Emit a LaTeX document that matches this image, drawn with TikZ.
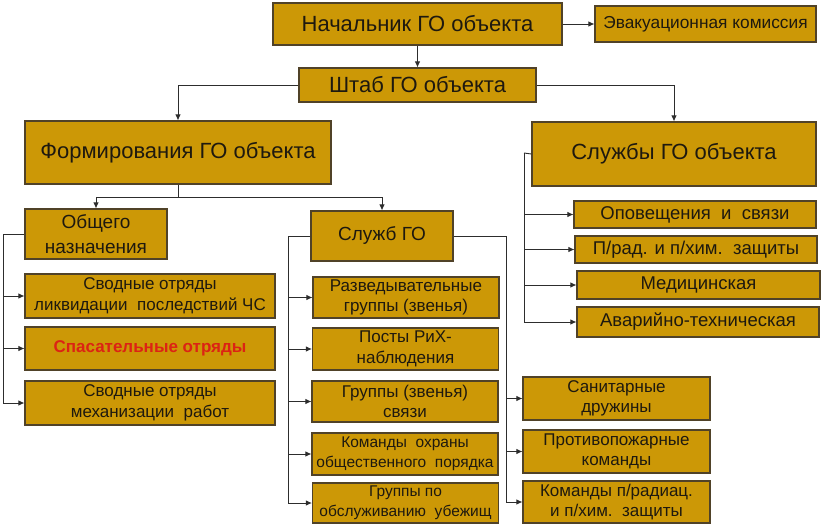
\documentclass[tikz,border=0pt]{standalone}
\usepackage{fontspec}
\setmainfont{Liberation Sans}
\usetikzlibrary{arrows.meta}
\definecolor{gold}{RGB}{204,152,6}
\definecolor{boxline}{RGB}{80,66,40}
\definecolor{conncol}{RGB}{45,45,45}
\definecolor{txtcol}{RGB}{30,25,15}
\definecolor{redtxt}{RGB}{220,35,20}
\newcommand\fBig{\fontsize{22}{24}\selectfont}
\newcommand\fMid{\fontsize{19}{25}\selectfont}
\newcommand\fSrv{\fontsize{18.5}{20}\selectfont}
\newcommand\fEvk{\fontsize{17.3}{19}\selectfont}
\newcommand\fSml{\fontsize{17}{20.5}\selectfont}
\newcommand\fTiny{\fontsize{15.5}{20}\selectfont}
\tikzset{
  box/.style={draw=boxline, fill=gold, line width=1.1pt, inner sep=0pt,
    align=center, text=txtcol},
  conn/.style={draw=conncol, line width=0.9pt},
  arr/.style={conn, -{Latex[length=6pt,width=5.5pt]}},
}
\begin{document}
\begin{tikzpicture}[x=1pt,y=-1pt]
\useasboundingbox (0,0) rectangle (830,527);
% top level
\node[box, minimum width=289pt, minimum height=42pt, font=\fBig] (nach) at (417.5,24) {Начальник ГО объекта};
\node[box, minimum width=221pt, minimum height=36pt, font=\fEvk] (evak) at (705.5,24) {Эвакуационная комиссия};
\node[box, minimum width=237pt, minimum height=34pt, font=\fBig] (shtab) at (417.5,85) {Штаб ГО объекта};
\node[box, minimum width=306pt, minimum height=63pt, font=\fBig] (form) at (178,152.5) {Формирования ГО объекта};
\node[box, minimum width=284pt, minimum height=64pt, font=\fBig] (sluzh) at (674,154) {Службы ГО объекта};
% second level
\node[box, minimum width=142pt, minimum height=50pt, font=\fMid] (obsh) at (96,234) {Общего\\назначения};
\node[box, minimum width=142pt, minimum height=50pt, font=\fMid] (sgo) at (382,236) {Служб ГО};
% left column
\node[box, minimum width=250pt, minimum height=44pt, font=\fSml] (svl) at (150,296) {Сводные отряды\\ликвидации\ \ последствий ЧС};
\node[box, minimum width=250pt, minimum height=43pt, font=\fSml\bfseries, text=redtxt] (spas) at (150,348.5) {Спасательные отряды};
\node[box, minimum width=250pt, minimum height=44pt, font=\fSml] (svm) at (150,403) {Сводные отряды\\механизации\ \ работ};
% middle column
\node[box, minimum width=186pt, minimum height=41pt, font=\fSml] (razv) at (406,297.5) {Разведывательные\\группы (звенья)};
\node[box, minimum width=186pt, minimum height=42pt, font=\fSml] (posty) at (405.5,349) {Посты РиХ-\\наблюдения};
\node[box, minimum width=186pt, minimum height=41pt, font=\fSml] (grsv) at (405,401.5) {Группы (звенья)\\связи};
\node[box, minimum width=186pt, minimum height=42pt, font=\fTiny] (komohr) at (405,454) {Команды\ \ охраны\\общественного\ \ порядка};
\node[box, minimum width=186pt, minimum height=40pt, font=\fTiny] (ubezh) at (405.5,503) {Группы по\\обслуживанию\ \ убежищ};
% right upper column
\node[box, minimum width=242pt, minimum height=27pt, font=\fSrv] (opov) at (695,214.5) {Оповещения\ \ и\ \ связи};
\node[box, minimum width=242pt, minimum height=27pt, font=\fSrv] (prad) at (696,249.5) {П/рад. и п/хим.\ \ защиты};
\node[box, minimum width=243pt, minimum height=28pt, font=\fSrv] (med) at (698.5,285) {Медицинская};
\node[box, minimum width=242pt, minimum height=30pt, font=\fSrv] (avar) at (698,322) {Аварийно-техническая};
% right lower column
\node[box, minimum width=187pt, minimum height=43pt, font=\fSml] (san) at (616.5,398.5) {Санитарные\\дружины};
\node[box, minimum width=187pt, minimum height=43pt, font=\fSml] (prot) at (616.5,451.5) {Противопожарные\\команды};
\node[box, minimum width=187pt, minimum height=42pt, font=\fSml] (komrad) at (616.5,502) {Команды п/радиац.\\и п/хим.\ \ защиты};
% bus coordinates
\coordinate (fj) at (178,197);
\coordinate (bl) at (3,234);
\coordinate (bm) at (288,236);
\coordinate (br) at (506,236);
\coordinate (bs) at (524,153);
% connectors
\draw[arr] (nach) -- (evak);
\draw[arr] (nach) -- (shtab);
\draw[arr] (shtab.west) -| (form.north);
\draw[arr] (shtab.east) -| (sluzh.north);
\draw[conn] (form.south) -- (fj);
\draw[arr] (fj) -| (obsh.north);
\draw[arr] (fj) -| (sgo.north);
\draw[conn] (obsh.west) -- (bl);
\draw[arr] (bl) |- (svl.west);
\draw[arr] (bl) |- (spas.west);
\draw[arr] (bl) |- (svm.west);
\draw[conn] (sgo.west) -- (bm);
\draw[arr] (bm) |- (razv.west);
\draw[arr] (bm) |- (posty.west);
\draw[arr] (bm) |- (grsv.west);
\draw[arr] (bm) |- (komohr.west);
\draw[arr] (bm) |- (ubezh.west);
\draw[conn] (sgo.east) -- (br);
\draw[arr] (br) |- (san.west);
\draw[arr] (br) |- (prot.west);
\draw[arr] (br) |- (komrad.west);
\draw[conn] (sluzh.west) -- (bs);
\draw[arr] (bs) |- (opov.west);
\draw[arr] (bs) |- (prad.west);
\draw[arr] (bs) |- (med.west);
\draw[arr] (bs) |- (avar.west);
\end{tikzpicture}
\end{document}
